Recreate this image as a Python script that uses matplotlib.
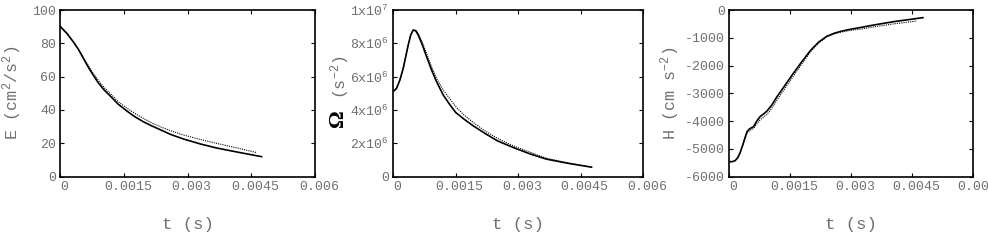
import matplotlib
matplotlib.use("Agg")
import matplotlib.pyplot as plt
import matplotlib.transforms as mtransforms

plt.rcParams['font.family'] = ['Liberation Mono', 'DejaVu Sans']
plt.rcParams['mathtext.fontset'] = 'custom'
plt.rcParams['mathtext.rm'] = 'Liberation Mono'
plt.rcParams['mathtext.it'] = 'Liberation Mono'
plt.rcParams['mathtext.bf'] = 'Liberation Serif:bold'
plt.rcParams['axes.unicode_minus'] = False

GREY = '#707070'

# energy E (cm^2/s^2)
e_t = [0, 0.00015, 0.0003, 0.00042, 0.00054, 0.00066, 0.00077, 0.0009, 0.00103, 0.00117, 0.00136,
       0.00156, 0.00175, 0.00195, 0.00215, 0.00235, 0.0026, 0.0029, 0.0033, 0.00368, 0.0042, 0.00474]
e_solid = [90, 86, 81, 76.5, 71, 65.5, 61, 56, 52, 48.5, 43.5,
           39.5, 36, 33, 30.5, 28.2, 25.3, 22.6, 19.6, 17.2, 14.6, 12]
e_dot_t = [0, 0.00015, 0.0003, 0.00042, 0.00054, 0.00066, 0.00077, 0.0009, 0.00103, 0.00117, 0.00136,
           0.00156, 0.00175, 0.00195, 0.00215, 0.00235, 0.0026, 0.0029, 0.0033, 0.00368, 0.0042, 0.00463]
e_dot = [90, 86, 81, 76.5, 71.5, 66.5, 62, 57.5, 53.5, 50, 45,
         41.2, 38, 35, 32.3, 30, 27.5, 25, 22.3, 20, 17, 14.4]

# enstrophy Omega (s^-2)
w_t = [0.00002, 0.00008, 0.00016, 0.00024, 0.0003, 0.00036, 0.00042, 0.00048, 0.00054, 0.0006,
       0.0007, 0.0008, 0.00092, 0.00104, 0.0012, 0.00135, 0.0015, 0.0017, 0.00192, 0.0022,
       0.0025, 0.00288, 0.0033, 0.00368, 0.0042, 0.00476]
w_solid = [5.15e6, 5.3e6, 5.8e6, 6.5e6, 7.2e6, 7.9e6, 8.5e6, 8.8e6, 8.75e6, 8.5e6,
           7.9e6, 7.2e6, 6.4e6, 5.7e6, 4.9e6, 4.35e6, 3.85e6, 3.45e6, 3.05e6, 2.6e6,
           2.15e6, 1.75e6, 1.35e6, 1.05e6, 0.8e6, 0.57e6]
w_dot = [5.15e6, 5.3e6, 5.8e6, 6.5e6, 7.2e6, 7.9e6, 8.5e6, 8.8e6, 8.78e6, 8.6e6,
         8.05e6, 7.4e6, 6.6e6, 5.9e6, 5.2e6, 4.7e6, 4.2e6, 3.7e6, 3.25e6, 2.75e6,
         2.3e6, 1.85e6, 1.45e6, 1.1e6, 0.82e6, 0.57e6]

# helicity H (cm s^-2)
h_t = [0.00002, 0.00008, 0.00015, 0.00021, 0.00027, 0.00033, 0.00039, 0.00044, 0.0005, 0.0006,
       0.00068, 0.00076, 0.00085, 0.00093, 0.00105, 0.00117, 0.00137, 0.00158, 0.0018, 0.002,
       0.0022, 0.0024, 0.0026, 0.0028, 0.003, 0.00323, 0.0036, 0.00405, 0.00477]
h_solid = [-5460, -5460, -5420, -5320, -5140, -4880, -4600, -4380, -4280, -4200,
           -4000, -3840, -3740, -3640, -3420, -3140, -2720, -2280, -1840, -1460,
           -1160, -950, -830, -750, -690, -630, -530, -420, -276]
h_dot_t = [0.00002, 0.00008, 0.00015, 0.00021, 0.00027, 0.00033, 0.00039, 0.00044, 0.0005, 0.0006,
           0.00068, 0.00076, 0.00085, 0.00093, 0.00105, 0.00117, 0.00137, 0.00158, 0.0018, 0.002,
           0.0022, 0.0024, 0.0026, 0.0028, 0.003, 0.00323, 0.0036, 0.00405, 0.00462]
h_dot = [-5460, -5460, -5420, -5320, -5140, -4900, -4640, -4440, -4340, -4270,
         -4100, -3960, -3850, -3760, -3540, -3260, -2830, -2380, -1920, -1510,
         -1190, -970, -850, -780, -730, -690, -600, -500, -396]

x_ticks = [0, 0.0015, 0.003, 0.0045, 0.006]
x_labels = ['0', '0.0015', '0.003', '0.0045', '0.006']

fig = plt.figure(figsize=(9.88, 2.44), dpi=100)

panels = [
    dict(rect=[0.0612, 0.276, 0.2576, 0.683], t=e_t, y=e_solid, td=e_dot_t, yd=e_dot,
         ylim=(0, 100), yticks=[0, 20, 40, 60, 80, 100],
         ylabels=['0', '20', '40', '60', '80', '100']),
    dict(rect=[0.398, 0.276, 0.253, 0.683], t=w_t, y=w_solid, td=w_t, yd=w_dot,
         ylim=(0, 1e7), yticks=[0, 2e6, 4e6, 6e6, 8e6, 1e7],
         ylabels=['0', r'2x10$^6$', r'4x10$^6$', r'6x10$^6$', r'8x10$^6$', r'1x10$^7$']),
    dict(rect=[0.738, 0.276, 0.2467, 0.683], t=h_t, y=h_solid, td=h_dot_t, yd=h_dot,
         ylim=(-6000, 0), yticks=[-6000, -5000, -4000, -3000, -2000, -1000, 0],
         ylabels=['-6000', '-5000', '-4000', '-3000', '-2000', '-1000', '0']),
]

shift = mtransforms.ScaledTranslation(4 / 100, 0, fig.dpi_scale_trans)

axes = []
for p in panels:
    ax = fig.add_axes(p['rect'])
    ax.plot(p['td'], p['yd'], color='black', lw=0.8, ls=(0, (1, 1)))
    ax.plot(p['t'], p['y'], color='black', lw=1.2)
    ax.set_xlim(0, 0.006)
    ax.set_ylim(*p['ylim'])
    ax.set_xticks(x_ticks)
    ax.set_xticklabels(x_labels)
    ax.set_yticks(p['yticks'])
    ax.set_yticklabels(p['ylabels'])
    ax.tick_params(direction='in', length=3, width=0.8, top=True, right=True,
                   labelsize=9.5, labelcolor=GREY, pad=3)
    for lab in ax.get_xticklabels():
        lab.set_transform(lab.get_transform() + shift)
    for s in ax.spines.values():
        s.set_linewidth(1.2)
    ax.text(0.5, -0.29, 't (s)', transform=ax.transAxes, ha='center', va='center',
            fontsize=12.5, color=GREY)
    axes.append(ax)

# y labels
axes[0].text(-0.19, 0.5, r'E (cm$^2$/s$^2$)', transform=axes[0].transAxes, rotation=90,
             ha='center', va='center', fontsize=12, color=GREY)
axes[1].text(-0.218, 0.34, r'$\mathbf{\Omega}$', transform=axes[1].transAxes, rotation=90,
             ha='center', va='center', fontsize=16, color='black')
axes[1].text(-0.212, 0.6, r'(s$^{-2}$)', transform=axes[1].transAxes, rotation=90,
             ha='center', va='center', fontsize=12, color=GREY)
axes[2].text(-0.242, 0.5, r'H (cm s$^{-2}$)', transform=axes[2].transAxes, rotation=90,
             ha='center', va='center', fontsize=12, color=GREY)

fig.savefig('out.png', dpi=100)
